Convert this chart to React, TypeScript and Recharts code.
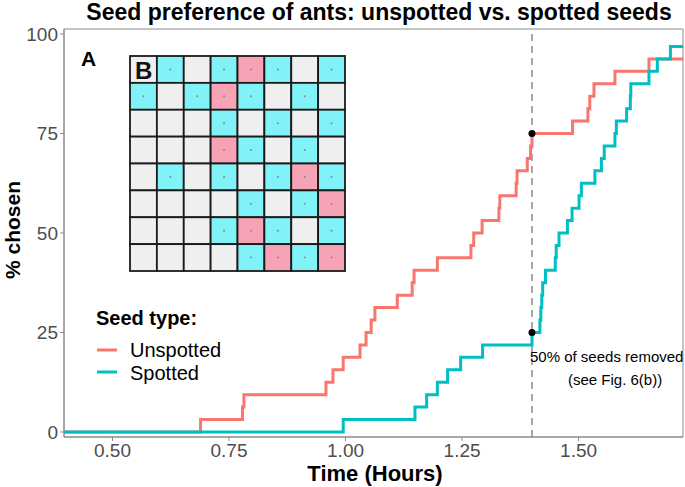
import { LineChart, Line, XAxis, YAxis, ReferenceLine, ReferenceDot, ReferenceArea } from 'recharts';

// time (hours) at which each step happens, and cumulative % chosen after it
const unspottedTimes = [0.39, 0.689, 0.779, 0.782, 0.958, 0.973, 0.995, 1.031, 1.044, 1.055, 1.063, 1.111, 1.143, 1.147, 1.197, 1.269, 1.275, 1.293, 1.329, 1.331, 1.366, 1.368, 1.39, 1.397, 1.4, 1.487, 1.52, 1.524, 1.533, 1.578, 1.651, 1.75];
const unspottedPct = [0, 3.125, 6.25, 9.375, 12.5, 15.625, 18.75, 21.875, 25, 28.125, 31.25, 34.375, 37.5, 40.625, 43.75, 46.875, 50, 53.125, 56.25, 59.375, 62.5, 65.625, 68.75, 71.875, 75, 78.125, 81.25, 84.375, 87.5, 90.625, 93.75, 93.75];

const spottedTimes = [0.39, 0.995, 1.149, 1.174, 1.197, 1.219, 1.247, 1.294, 1.4, 1.417, 1.419, 1.421, 1.423, 1.429, 1.45, 1.452, 1.458, 1.476, 1.486, 1.501, 1.506, 1.535, 1.549, 1.555, 1.578, 1.581, 1.603, 1.611, 1.612, 1.651, 1.669, 1.697, 1.75];
const spottedPct = [0, 3.125, 6.25, 9.375, 12.5, 15.625, 18.75, 21.875, 25, 28.125, 31.25, 34.375, 37.5, 40.625, 43.75, 46.875, 50, 53.125, 56.25, 59.375, 62.5, 65.625, 68.75, 71.875, 75, 78.125, 81.25, 84.375, 87.5, 90.625, 93.75, 96.875, 96.875];

const xTicks = [0.5, 0.75, 1.0, 1.25, 1.5];
const yTicks = [0, 25, 50, 75, 100];
const removedAt = 1.4;
const removedPct = [75, 25];

// inset photo of the seed tray: c = spotted, p = unspotted, g = empty
const trayRows = [
  'gcgcpcgc',
  'cgcpcgcg',
  'gggcgcgc',
  'gggpcgcg',
  'gcgcgcpc',
  'ggggcgcp',
  'gggcpcgc',
  'ggggcpcp',
];

const RED = '#F8766D';
const TEAL = '#00BFC4';
const FONT = '"Liberation Sans", Arial, sans-serif';

const unspotted = unspottedTimes.map((t, i) => ({ t, v: unspottedPct[i] }));
const spotted = spottedTimes.map((t, i) => ({ t, v: spottedPct[i] }));

const xDomain: [number, number] = [0.396, 1.724];
const yDomain: [number, number] = [-1.26, 101.26];

function Tray() {
  const x0 = 130, y0 = 56, size = 215;
  const cell = size / 8;
  const fills: Record<string, string> = { c: '#80f2f8', p: '#f7a3b6', g: '#efefef' };
  return (
    <g>
      {trayRows.map((row, r) =>
        row.split('').map((k, c) => (
          <g key={`${r}-${c}`}>
            <rect x={x0 + c * cell} y={y0 + r * cell} width={cell} height={cell} fill={fills[k]} stroke="#1a1a1a" strokeWidth={1.8} />
            {k !== 'g' && <circle cx={x0 + c * cell + cell / 2} cy={y0 + r * cell + cell / 2} r={1} fill="#8a8a8a" />}
          </g>
        ))
      )}
      <text x={135} y={79} fontSize={24} fontWeight="bold" fill="#111">B</text>
    </g>
  );
}

export default function App() {
  return (
    <div style={{ position: 'absolute', left: 0, top: 0, width: 685, height: 487, background: '#fff', fontFamily: FONT }}>
      <LineChart width={685} height={487} margin={{ top: 29, right: 2, bottom: 0, left: 0 }}>
        <ReferenceArea x1={xDomain[0]} x2={xDomain[1]} y1={yDomain[0]} y2={yDomain[1]} fill="none" stroke="#8a8a8a" strokeWidth={1} ifOverflow="visible" />
        <XAxis
          type="number"
          dataKey="t"
          domain={xDomain}
          allowDataOverflow
          ticks={xTicks}
          tickFormatter={(v: number) => v.toFixed(2)}
          height={50}
          tickSize={4}
          tickMargin={3}
          stroke="#8a8a8a"
          tick={{ fontSize: 19, fill: '#4d4d4d', fontFamily: FONT }}
        />
        <YAxis
          type="number"
          domain={yDomain}
          allowDataOverflow
          ticks={yTicks}
          width={64}
          tickSize={4}
          tickMargin={2}
          stroke="#8a8a8a"
          tick={{ fontSize: 19, fill: '#4d4d4d', fontFamily: FONT }}
        />
        <ReferenceLine x={removedAt} stroke="#8c8c8c" strokeWidth={1.5} strokeDasharray="7 5" />
        <Line data={unspotted} dataKey="v" type="stepAfter" stroke={RED} strokeWidth={3} dot={false} activeDot={false} isAnimationActive={false} />
        <Line data={spotted} dataKey="v" type="stepAfter" stroke={TEAL} strokeWidth={3} dot={false} activeDot={false} isAnimationActive={false} />
        {removedPct.map((p) => (
          <ReferenceDot key={p} x={removedAt} y={p} r={3.5} fill="#000" stroke="none" />
        ))}
      </LineChart>
      <svg width={685} height={487} style={{ position: 'absolute', left: 0, top: 0, pointerEvents: 'none' }} fontFamily={FONT}>
        <text x={379} y={20} textAnchor="middle" fontSize={23} fontWeight="bold" fill="#000">
          Seed preference of ants: unspotted vs. spotted seeds
        </text>
        <text x={375} y={481} textAnchor="middle" fontSize={22} fontWeight="bold" fill="#000">Time (Hours)</text>
        <text transform="translate(20,230) rotate(-90)" textAnchor="middle" fontSize={21} fontWeight="bold" fill="#000">% chosen</text>
        <text x={81} y={65.5} fontSize={21} fontWeight="bold" fill="#000">A</text>
        <Tray />
        <text x={96} y={325} fontSize={20} fontWeight="bold" fill="#000">Seed type:</text>
        <line x1={97} x2={117} y1={350} y2={350} stroke={RED} strokeWidth={3} />
        <line x1={97} x2={117} y1={372} y2={372} stroke={TEAL} strokeWidth={3} />
        <text x={130} y={357} fontSize={20} fill="#000">Unspotted</text>
        <text x={130} y={380} fontSize={20} fill="#000">Spotted</text>
        <text x={530} y={361.5} fontSize={15} fill="#000">50% of seeds removed</text>
        <text x={568} y={385} fontSize={15} fill="#000">(see Fig. 6(b))</text>
      </svg>
    </div>
  );
}
